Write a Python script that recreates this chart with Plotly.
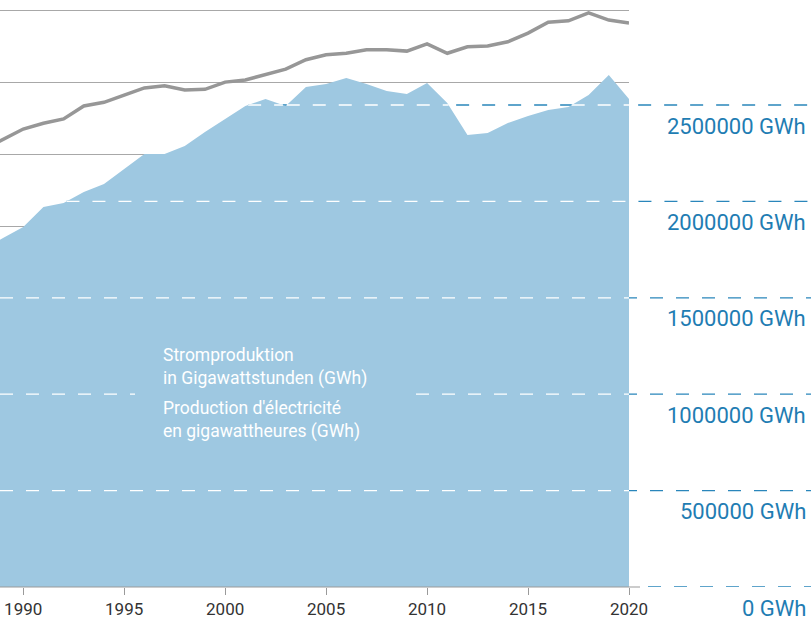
import plotly.graph_objects as go

years = list(range(1988, 2021))
production_gwh = [1748000, 1810000, 1867000, 1971000, 1992000, 2049000, 2090000, 2168000,
                  2246000, 2246000, 2287000, 2360000, 2428000, 2495000, 2531000, 2495000,
                  2594000, 2609000, 2640000, 2609000, 2573000, 2557000, 2614000, 2511000,
                  2345000, 2355000, 2407000, 2443000, 2474000, 2490000, 2552000, 2656000,
                  2531000]
grey_series = [60.6, 62.0, 63.5, 64.3, 64.9, 66.7, 67.2, 68.2, 69.2, 69.5, 68.9, 69.0,
               70.0, 70.3, 71.1, 71.8, 73.1, 73.8, 74.0, 74.5, 74.5, 74.3, 75.3, 74.0,
               74.9, 75.0, 75.6, 76.8, 78.3, 78.5, 79.6, 78.6, 78.2]
grid_levels = [0, 500000, 1000000, 1500000, 2000000, 2500000]
grid_labels = ["0 GWh", "500000 GWh", "1000000 GWh", "1500000 GWh", "2000000 GWh", "2500000 GWh"]
tick_years = [1990, 1995, 2000, 2005, 2010, 2015, 2020]
label_de = "Stromproduktion<br>in Gigawattstunden (GWh)"
label_fr = "Production d'électricité<br>en gigawattheures (GWh)"

AREA = "#9ec8e1"
BLUE = "#2a86bb"
XMIN, XMAX = 1988.85, 2020.0
W, H = 812, 621
ML, MR, MT, MB = 0, 183, 0, 34
PW = W - ML - MR
PH = H - MT - MB

fig = go.Figure()
fig.add_trace(go.Scatter(x=years, y=production_gwh, mode="lines", fill="tozeroy",
                         fillcolor=AREA, line=dict(width=0, color=AREA), hoverinfo="skip"))
fig.add_trace(go.Scatter(x=years, y=grey_series, mode="lines", yaxis="y2",
                         line=dict(width=3.5, color="#979797"), hoverinfo="skip"))


def above_segments(level):
    segs = []
    start = None
    for i in range(len(years)):
        v = production_gwh[i]
        if i == 0:
            if v >= level:
                start = years[0]
            continue
        v0 = production_gwh[i - 1]
        x0, x1 = years[i - 1], years[i]
        if (v0 < level) != (v < level):
            xc = x0 + (level - v0) / (v - v0) * (x1 - x0)
            if v >= level:
                start = xc
            else:
                segs.append((start, xc))
                start = None
    if start is not None:
        segs.append((start, years[-1]))
    return [(max(a, XMIN), min(b, XMAX)) for a, b in segs if b > XMIN]


def to_paper(x):
    return (x - XMIN) / (XMAX - XMIN)


shapes = []
dash = "13px,13px"
xr = (W - 1 - ML) / PW
for lvl in grid_levels:
    segs = above_segments(lvl) if lvl > 0 else []
    first = segs[0][0] if segs else XMAX
    x_start = to_paper(first) if lvl > 0 else 648 / PW
    shapes.append(dict(type="line", xref="paper", yref="y", x0=x_start, x1=xr,
                       y0=lvl, y1=lvl, layer="below",
                       line=dict(color=BLUE, width=1.3, dash=dash)))
    for a, b in segs:
        shapes.append(dict(type="line", xref="x", yref="y", x0=a, x1=b, y0=lvl, y1=lvl,
                           layer="above", line=dict(color="white", width=1.3, dash=dash)))

shapes.append(dict(type="rect", xref="paper", yref="paper", x0=135 / PW, x1=413 / PW,
                   y0=1 - 445 / PH, y1=1 - 345 / PH, fillcolor=AREA, line=dict(width=0),
                   layer="above"))
# axis line slightly past 2020
shapes.append(dict(type="line", xref="paper", yref="paper", x0=0, x1=640 / PW, y0=0, y1=0,
                   layer="above", line=dict(color="#9a9a9a", width=1.2)))

annotations = []
for lvl, txt in zip(grid_levels, grid_labels):
    annotations.append(dict(text=txt, xref="paper", yref="y", x=(808 - ML) / PW, y=lvl,
                            xanchor="right", yanchor="middle", yshift=-21, showarrow=False,
                            font=dict(family="Roboto", size=22, color="#1f7db3")))
annotations.append(dict(text=label_de, xref="paper", yref="paper", x=161 / PW,
                        y=1 - 366.5 / PH, xanchor="left", yanchor="middle", align="left",
                        showarrow=False, font=dict(family="Roboto", size=17.5, color="white")))
annotations.append(dict(text=label_fr, xref="paper", yref="paper", x=161 / PW,
                        y=1 - 420.5 / PH, xanchor="left", yanchor="middle", align="left",
                        showarrow=False, font=dict(family="Roboto", size=17.5, color="white")))

top1 = PH / ((587 - 105) / 5) * 500000
top2 = PH / ((587 - 10) / 80)

fig.update_layout(
    width=W, height=H, margin=dict(l=ML, r=MR, t=MT, b=MB),
    paper_bgcolor="white", plot_bgcolor="white", showlegend=False, hovermode=False,
    xaxis=dict(range=[XMIN, XMAX], tickvals=tick_years, ticks="outside", ticklen=7,
               tickcolor="#9a9a9a", tickwidth=1, showgrid=False, zeroline=False,
               showline=False, tickfont=dict(family="Roboto", size=17, color="#333333")),
    yaxis=dict(range=[0, top1], showgrid=False, zeroline=False, showticklabels=False,
               ticks=""),
    yaxis2=dict(range=[0, top2], overlaying="y", side="right", dtick=10, showgrid=True,
                gridcolor="#a8a8a8", gridwidth=1, zeroline=False, showticklabels=False,
                ticks=""),
    shapes=shapes, annotations=annotations,
)
fig.write_html("out.html", config={"displayModeBar": False, "staticPlot": True},
               post_script="document.body.style.margin='0';document.body.style.overflow='hidden';")
